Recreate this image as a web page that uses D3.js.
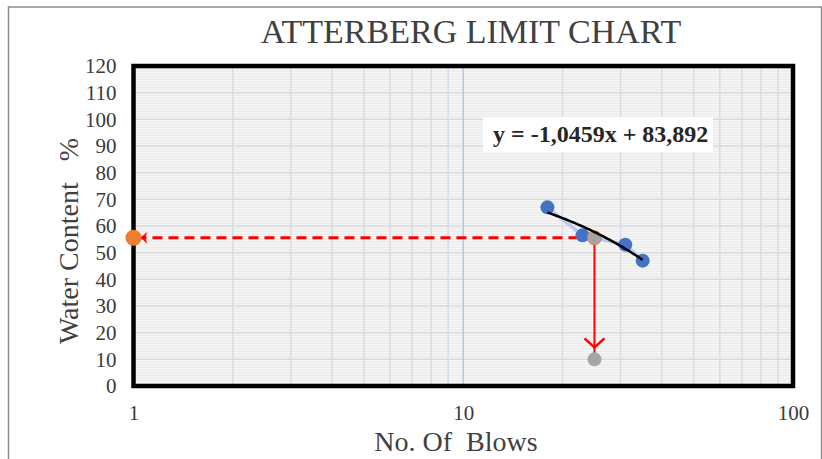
<!DOCTYPE html>
<html>
<head>
<meta charset="utf-8">
<script src="https://cdn.jsdelivr.net/npm/d3@7"></script>
<style>
  body { margin: 0; background: #fff; }
  text { font-family: "Liberation Serif", "Times New Roman", serif; }
</style>
</head>
<body>
<div class="container"></div>
<script>
// data
const blows = [18, 23, 31, 35];
const waterContent = [67, 56.5, 53, 47];
const trendSlope = -1.0459;
const trendIntercept = 83.892;
const llBlows = 25;          // blows for liquid limit
const liquidLimit = 55.6;    // water content at 25 blows
const llFoot = 10;           // end of the vertical arrow
const xTickValues = [1, 10, 100];
const yTickValues = [0, 10, 20, 30, 40, 50, 60, 70, 80, 90, 100, 110, 120];
const xMinorGrid = [2, 3, 4, 5, 6, 7, 8, 9, 20, 30, 40, 50, 60, 70, 80, 90];
const yMinorGrid = d3.range(1, 120, 1).filter(v => v % 10 !== 0);

const W = 822, H = 459;
const margin = { top: 66, right: 29, bottom: 73, left: 133.5 };
const width = W - margin.left - margin.right;
const height = H - margin.top - margin.bottom;

const svg = d3.select(".container").append("svg")
  .attr("width", W)
  .attr("height", H);

// outer chart frame
svg.append("rect")
  .attr("x", 8.5).attr("y", 7)
  .attr("width", 813).attr("height", 470)
  .attr("fill", "none")
  .attr("stroke", "#8c8c8c")
  .attr("stroke-width", 1.5);

// title
svg.append("text")
  .attr("x", 471).attr("y", 43)
  .attr("text-anchor", "middle")
  .attr("fill", "#404040")
  .style("font-size", "34px")
  .text("ATTERBERG LIMIT CHART");

const defs = svg.append("defs");
defs.append("marker")
  .attr("id", "arrowLeft")
  .attr("markerUnits", "userSpaceOnUse")
  .attr("orient", "auto")
  .attr("markerWidth", 40).attr("markerHeight", 40)
  .attr("viewBox", "-20 -20 40 40")
  .attr("refX", 0).attr("refY", 0)
  .append("path")
  .attr("d", "M-7,0 L-14,-6 L-11.5,0 L-14,6 Z")
  .attr("fill", "#ff0000");
defs.append("marker")
  .attr("id", "arrowDown")
  .attr("markerUnits", "userSpaceOnUse")
  .attr("orient", "auto")
  .attr("markerWidth", 60).attr("markerHeight", 60)
  .attr("viewBox", "-30 -30 60 60")
  .attr("refX", 0).attr("refY", 0)
  .append("path")
  .attr("d", "M-21,-10 L-12,0 L-21,10")
  .attr("fill", "none")
  .attr("stroke", "#ff0000")
  .attr("stroke-width", 2.4);

const g = svg.append("g").attr("transform", `translate(${margin.left},${margin.top})`);

const x = d3.scaleLog().domain([1, 100]).range([0, width]);
const y = d3.scaleLinear().domain([0, 120]).range([height, 0]);

// plot background
g.append("rect")
  .attr("width", width).attr("height", height)
  .attr("fill", "#f5f5f5");

// minor horizontal grid
g.append("g").selectAll("line")
  .data(yMinorGrid).join("line")
  .attr("x1", 0).attr("x2", width)
  .attr("y1", d => y(d)).attr("y2", d => y(d))
  .attr("stroke", "#eaeaea")
  .attr("stroke-width", 1);

// major horizontal grid
g.append("g").selectAll("line")
  .data(yTickValues).join("line")
  .attr("x1", 0).attr("x2", width)
  .attr("y1", d => y(d)).attr("y2", d => y(d))
  .attr("stroke", "#d9d9d9")
  .attr("stroke-width", 1.5);

// vertical grid
g.append("g").selectAll("line")
  .data(xMinorGrid).join("line")
  .attr("x1", d => x(d)).attr("x2", d => x(d))
  .attr("y1", 0).attr("y2", height)
  .attr("stroke", "#d6dce8")
  .attr("stroke-width", 1.5);
g.append("line")
  .attr("x1", x(10)).attr("x2", x(10))
  .attr("y1", 0).attr("y2", height)
  .attr("stroke", "#b4c7e7")
  .attr("stroke-width", 1.5);

// y axis
g.append("g")
  .call(d3.axisLeft(y).tickValues(yTickValues).tickSize(0).tickPadding(17))
  .call(a => a.select(".domain").remove())
  .call(a => a.selectAll("text")
    .style("font-family", "Liberation Serif")
    .style("font-size", "21px")
    .attr("fill", "#3a3a3a"));

// x axis
g.append("g")
  .attr("transform", `translate(0,${height})`)
  .call(d3.axisBottom(x).tickValues(xTickValues).tickFormat(d3.format("d")).tickSize(0).tickPadding(19))
  .call(a => a.select(".domain").remove())
  .call(a => a.selectAll("text")
    .style("font-family", "Liberation Serif")
    .style("font-size", "21px")
    .attr("fill", "#3a3a3a"));

// axis titles
svg.append("text")
  .attr("x", 456).attr("y", 451)
  .attr("text-anchor", "middle")
  .attr("fill", "#404040")
  .style("font-size", "28px")
  .style("white-space", "pre")
  .text("No. Of  Blows");

svg.append("text")
  .attr("transform", "translate(78,241) rotate(-90)")
  .attr("text-anchor", "middle")
  .attr("fill", "#404040")
  .style("font-size", "28px")
  .style("white-space", "pre")
  .text("Water Content   %");

const points = blows.map((b, i) => ({ b, w: waterContent[i] }));

// series line (pale)
g.append("path")
  .datum(points)
  .attr("d", d3.line().x(d => x(d.b)).y(d => y(d.w)))
  .attr("fill", "none")
  .attr("stroke", "#b8cbe9")
  .attr("stroke-width", 3.5);

// dashed horizontal arrow to the y axis
g.append("line")
  .attr("x1", x(llBlows)).attr("y1", y(liquidLimit))
  .attr("x2", x(1)).attr("y2", y(liquidLimit))
  .attr("stroke", "#ff0000")
  .attr("stroke-width", 3)
  .attr("stroke-dasharray", "10,6")
  .attr("marker-end", "url(#arrowLeft)");

// data points
g.append("g").selectAll("circle")
  .data(points).join("circle")
  .attr("cx", d => x(d.b)).attr("cy", d => y(d.w))
  .attr("r", 7)
  .attr("fill", "#4472c4");

// vertical arrow
g.append("line")
  .attr("x1", x(llBlows)).attr("y1", y(liquidLimit))
  .attr("x2", x(llBlows)).attr("y2", y(llFoot))
  .attr("stroke", "#ff0000")
  .attr("stroke-width", 2)
  .attr("marker-end", "url(#arrowDown)");

// liquid limit points
g.append("circle")
  .attr("cx", x(llBlows)).attr("cy", y(liquidLimit))
  .attr("r", 7)
  .attr("fill", "#a5a5a5")
  .attr("stroke", "#ed7d31")
  .attr("stroke-width", 1);
g.append("circle")
  .attr("cx", x(llBlows)).attr("cy", y(llFoot))
  .attr("r", 7)
  .attr("fill", "#a5a5a5");

// linear trendline (drawn on log axis)
const trendX = d3.range(d3.min(blows), d3.max(blows) + 0.01, 0.25);
g.append("path")
  .datum(trendX)
  .attr("d", d3.line().x(d => x(d)).y(d => y(trendSlope * d + trendIntercept)))
  .attr("fill", "none")
  .attr("stroke", "#000")
  .attr("stroke-width", 2.5);

// plot border
g.append("rect")
  .attr("width", width).attr("height", height)
  .attr("fill", "none")
  .attr("stroke", "#000")
  .attr("stroke-width", 4.5);

// orange point on the y axis
g.append("circle")
  .attr("cx", x(1)).attr("cy", y(liquidLimit))
  .attr("r", 8)
  .attr("fill", "#ed7d31");

// equation label
const fmt = v => String(v).replace(".", ",");
svg.append("rect")
  .attr("x", 483).attr("y", 117)
  .attr("width", 230).attr("height", 35)
  .attr("fill", "#fff");
svg.append("text")
  .attr("x", 493).attr("y", 142)
  .attr("fill", "#262626")
  .style("font-size", "24px")
  .style("font-weight", "bold")
  .text(`y = ${fmt(trendSlope)}x + ${fmt(trendIntercept)}`);
</script>
</body>
</html>
